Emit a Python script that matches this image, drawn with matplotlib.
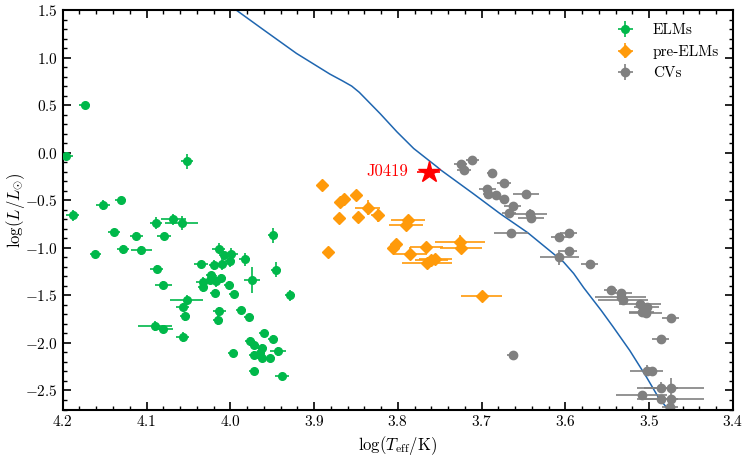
import numpy as np
import matplotlib
matplotlib.use('Agg')
import matplotlib.pyplot as plt
from matplotlib.ticker import MultipleLocator

plt.rcParams['font.family'] = 'serif'
plt.rcParams['font.serif'] = ['cmr10', 'DejaVu Serif']
plt.rcParams['mathtext.fontset'] = 'cm'
plt.rcParams['axes.formatter.use_mathtext'] = True
plt.rcParams['axes.unicode_minus'] = True

# ELMs: log Teff, log L, errors
elm_t = [4.196, 4.174, 4.052, 4.188, 4.152, 4.131, 4.089, 4.068, 4.058, 4.139,
         4.112, 4.161, 4.128, 4.106, 4.079, 4.088, 4.080, 3.949, 3.945, 3.929,
         4.014, 4.008, 3.999, 4.035, 4.019, 4.010, 4.000, 3.983, 4.023, 4.033,
         4.032, 4.024, 4.017, 4.011, 4.018, 4.002, 3.996, 3.974, 4.052, 4.057,
         4.054, 4.057, 4.013, 4.015, 3.987, 3.978, 4.090, 4.080, 3.997, 3.960,
         3.949, 3.976, 3.972, 3.962, 3.972, 3.965, 3.962, 3.953, 3.943, 3.972,
         3.938]
elm_l = [-0.03, 0.50, -0.09, -0.66, -0.55, -0.50, -0.74, -0.70, -0.74, -0.83,
         -0.875, -1.07, -1.016, -1.026, -0.876, -1.22, -1.39, -0.87, -1.23, -1.50,
         -1.01, -1.08, -1.06, -1.17, -1.18, -1.17, -1.14, -1.12, -1.29, -1.36,
         -1.41, -1.34, -1.35, -1.32, -1.47, -1.39, -1.49, -1.34, -1.55, -1.62,
         -1.72, -1.94, -1.66, -1.76, -1.65, -1.73, -1.82, -1.85, -2.11, -1.90,
         -1.96, -1.98, -2.02, -2.05, -2.13, -2.11, -2.16, -2.16, -2.09, -2.29,
         -2.35]
elm_te = [0.008, 0.006, 0.007, 0.008, 0.008, 0.007, 0.007, 0.015, 0.02, 0.007,
          0.008, 0.007, 0.007, 0.012, 0.008, 0.008, 0.01, 0.006, 0.006, 0.006,
          0.008, 0.006, 0.008, 0.008, 0.006, 0.006, 0.006, 0.006, 0.006, 0.008,
          0.006, 0.006, 0.008, 0.006, 0.006, 0.006, 0.006, 0.01, 0.02, 0.008,
          0.006, 0.008, 0.008, 0.006, 0.006, 0.006, 0.02, 0.012, 0.006, 0.006,
          0.006, 0.006, 0.006, 0.006, 0.006, 0.006, 0.006, 0.006, 0.01, 0.006,
          0.008]
elm_le = [0.03, 0.03, 0.08, 0.06, 0.05, 0.03, 0.06, 0.06, 0.07, 0.03,
          0.04, 0.04, 0.05, 0.05, 0.03, 0.04, 0.04, 0.08, 0.08, 0.06,
          0.06, 0.05, 0.06, 0.03, 0.05, 0.06, 0.06, 0.07, 0.04, 0.05,
          0.05, 0.04, 0.06, 0.04, 0.04, 0.04, 0.04, 0.14, 0.05, 0.04,
          0.05, 0.05, 0.04, 0.05, 0.03, 0.03, 0.05, 0.04, 0.03, 0.04,
          0.04, 0.04, 0.04, 0.04, 0.04, 0.05, 0.04, 0.03, 0.05, 0.03,
          0.03]

# pre-ELMs
pre_t = [3.890, 3.869, 3.864, 3.850, 3.870, 3.848, 3.836, 3.824, 3.788, 3.790,
         3.883, 3.806, 3.802, 3.785, 3.766, 3.765, 3.760, 3.755, 3.726, 3.725,
         3.700]
pre_l = [-0.335, -0.52, -0.49, -0.45, -0.69, -0.675, -0.58, -0.66, -0.71, -0.76,
         -1.04, -0.998, -0.956, -1.06, -0.99, -1.16, -1.13, -1.12, -0.94, -1.00,
         -1.51]
pre_te = [0, 0, 0, 0, 0, 0, 0.015, 0.008, 0.02, 0.02,
          0, 0.005, 0.005, 0.02, 0.02, 0.03, 0.02, 0.02, 0.03, 0.025,
          0.025]
pre_le = [0, 0, 0, 0, 0, 0, 0.08, 0.07, 0.02, 0.02,
          0, 0.03, 0.03, 0.07, 0.02, 0.02, 0.02, 0.02, 0.07, 0.03,
          0.06]

# CVs
cv_t = [3.725, 3.721, 3.711, 3.688, 3.673, 3.693, 3.692, 3.683, 3.673, 3.647,
        3.663, 3.667, 3.642, 3.641, 3.665, 3.607, 3.596, 3.596, 3.607, 3.571,
        3.546, 3.534, 3.534, 3.531, 3.511, 3.503, 3.509, 3.504, 3.474, 3.486,
        3.663, 3.503, 3.497, 3.486, 3.474, 3.509, 3.486, 3.474, 3.475]
cv_l = [-0.12, -0.18, -0.08, -0.21, -0.32, -0.38, -0.43, -0.44, -0.49, -0.43,
        -0.56, -0.63, -0.64, -0.69, -0.84, -0.89, -0.84, -1.03, -1.10, -1.17,
        -1.44, -1.47, -1.52, -1.55, -1.59, -1.62, -1.68, -1.69, -1.74, -1.96,
        -2.13, -2.29, -2.29, -2.47, -2.47, -2.55, -2.59, -2.59, -2.67]
cv_te = [0.008, 0.008, 0.008, 0.005, 0.008, 0.01, 0.006, 0.006, 0.006, 0.016,
         0.01, 0.008, 0.02, 0.015, 0.02, 0.01, 0.01, 0.01, 0.023, 0.01,
         0.008, 0.014, 0.03, 0.03, 0.025, 0.015, 0.015, 0.02, 0.01, 0.01,
         0.006, 0.02, 0.006, 0.02, 0.04, 0.03, 0.02, 0.04, 0.01]
cv_le = [0.03, 0.03, 0.02, 0.02, 0.02, 0.03, 0.03, 0.02, 0.02, 0.03,
         0.03, 0.03, 0.05, 0.03, 0.04, 0.03, 0.04, 0.03, 0.08, 0.02,
         0.04, 0.04, 0.04, 0.03, 0.03, 0.03, 0.03, 0.03, 0.02, 0.03,
         0.04, 0.06, 0.02, 0.06, 0.1, 0.04, 0.02, 0.04, 0.02]

# J0419
j_t, j_l, j_te = 3.763, -0.20, 0.014

# evolutionary track
trk_t = [4.000, 3.993, 3.960, 3.921, 3.881, 3.866, 3.855, 3.846, 3.836, 3.821,
         3.801, 3.781, 3.753, 3.749, 3.710, 3.678, 3.645, 3.602, 3.590, 3.578,
         3.557, 3.543, 3.523, 3.503, 3.489, 3.479, 3.470]
trk_l = [1.56, 1.50, 1.29, 1.044, 0.826, 0.755, 0.70, 0.635, 0.545, 0.41,
         0.219, 0.044, -0.15, -0.18, -0.43, -0.64, -0.84, -1.15, -1.27, -1.42,
         -1.66, -1.83, -2.08, -2.36, -2.57, -2.68, -2.75]

fig = plt.figure(figsize=(7.47, 4.55), dpi=100)
ax = fig.add_axes([0.084, 0.1, 0.897, 0.878])

ax.plot(trk_t, trk_l, '-', color='#1f66b0', lw=1.1, zorder=1)

ax.errorbar(elm_t, elm_l, xerr=elm_te, yerr=elm_le, fmt='o', color='#00b84a',
            ms=5.5, elinewidth=1.2, capsize=0, label='ELMs', zorder=3)
ax.errorbar(pre_t, pre_l, xerr=pre_te, yerr=pre_le, fmt='D', color='#ff9a0a',
            ms=6, elinewidth=1.2, capsize=0, label='pre-ELMs', zorder=3)
ax.errorbar(cv_t, cv_l, xerr=cv_te, yerr=cv_le, fmt='o', color='#808080',
            ms=6, elinewidth=1.2, capsize=0, label='CVs', zorder=2)
ax.errorbar([j_t], [j_l], xerr=[j_te], fmt='*', color='red', ms=16,
            elinewidth=1.2, capsize=0, zorder=4)
ax.text(3.788, j_l, 'J0419', color='red', fontsize=12, ha='right', va='center')

ax.set_xlim(4.2, 3.4)
ax.set_ylim(-2.7, 1.5)
ax.xaxis.set_major_locator(MultipleLocator(0.1))
ax.xaxis.set_minor_locator(MultipleLocator(0.02))
ax.yaxis.set_major_locator(MultipleLocator(0.5))
ax.yaxis.set_minor_locator(MultipleLocator(0.1))
ax.tick_params(which='both', direction='in', top=True, right=True, labelsize=11)
ax.tick_params(which='major', length=6, width=1.2)
ax.tick_params(which='minor', length=3, width=1.0)
for s in ax.spines.values():
    s.set_linewidth(1.5)

ax.set_xlabel(r'$\log(T_{\rm eff}/{\rm K})$', fontsize=12, labelpad=3)
ax.set_ylabel(r'$\log(L/L_{\odot})$', fontsize=12)
ax.yaxis.set_label_coords(-0.054, 0.5)
ax.legend(loc='upper right', frameon=False, fontsize=11, handletextpad=0.8)

fig.savefig('out.png', dpi=100)
